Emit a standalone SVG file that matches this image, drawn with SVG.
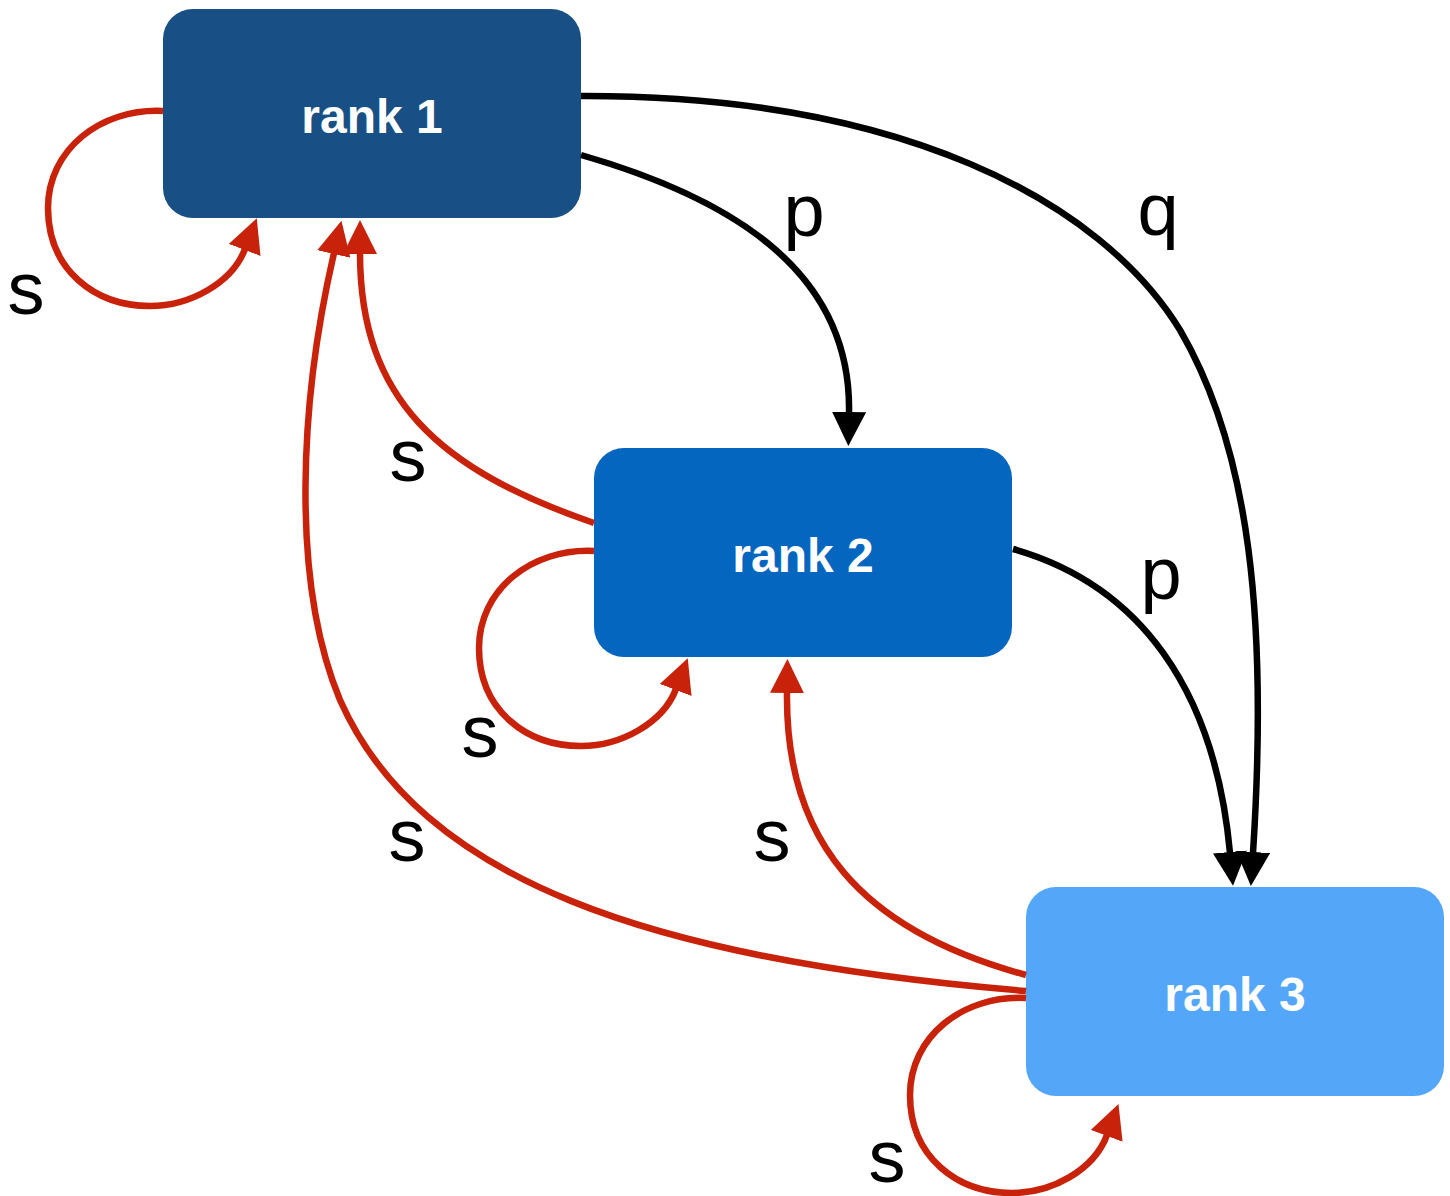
<svg xmlns="http://www.w3.org/2000/svg" width="1450" height="1196" viewBox="0 0 1450 1196">
<style>
.node text{font-family:"Liberation Sans",Arial,sans-serif;font-weight:bold;font-size:48px;fill:#ffffff;text-anchor:middle}
.e{fill:none;stroke-width:6.5}
.r{stroke:#c8230a}
.k{stroke:#000000}
.lbl{font-family:"Liberation Sans",Arial,sans-serif;font-size:74px;fill:#000000;text-anchor:middle}
</style>
<defs>
<marker id="ar" viewBox="0 0 34 34" markerWidth="34" markerHeight="34" markerUnits="userSpaceOnUse" refX="1" refY="17" orient="auto">
<path d="M0,0 L34,17 L0,34 z" fill="#c8230a"/>
</marker>
<marker id="ak" viewBox="0 0 34 34" markerWidth="34" markerHeight="34" markerUnits="userSpaceOnUse" refX="1" refY="17" orient="auto">
<path d="M0,0 L34,17 L0,34 z" fill="#000000"/>
</marker>
</defs>
<g id="rank1" class="node">
<rect x="163" y="9" width="418" height="209" rx="30" ry="30" fill="#184f85"/>
<text x="372" y="133">rank 1</text>
</g>
<g id="rank2" class="node">
<rect x="594" y="448" width="418" height="209" rx="30" ry="30" fill="#0566c0"/>
<text x="803" y="572">rank 2</text>
</g>
<g id="rank3" class="node">
<rect x="1026" y="887" width="418" height="209" rx="30" ry="30" fill="#54a7f8"/>
<text x="1235" y="1011">rank 3</text>
</g>
<g id="connectors">
<path class="e r" marker-end="url(#ar)" d="M163,111 C100,108 48,150 48,208 C48,270 95,306 150,306 C190,306 232,283 245,249"/>
<path class="e r" marker-end="url(#ar)" d="M594,551 C531,548 479,590 479,648 C479,710 526,746 581,746 C621,746 663,723 676,689"/>
<path class="e r" marker-end="url(#ar)" d="M1026,998 C962,995 910,1037 910,1095 C910,1157 957,1193 1012,1193 C1052,1193 1094,1170 1107,1135"/>
<path class="e k" marker-end="url(#ak)" d="M581,155 C720,195 852,265 849,413"/>
<path class="e k" marker-end="url(#ak)" d="M581,96 C900,95 1100,200 1180,330 C1250,450 1268,620 1253,853"/>
<path class="e k" marker-end="url(#ak)" d="M1013,549 C1140,585 1215,690 1230,853"/>
<path class="e r" marker-end="url(#ar)" d="M594,523 C440,470 360,400 360,253"/>
<path class="e r" marker-end="url(#ar)" d="M1026,991 C650,960 420,880 340,700 C290,580 300,400 334,253"/>
<path class="e r" marker-end="url(#ar)" d="M1026,975 C860,930 785,840 787,692"/>
</g>
<g id="labels">
<text class="lbl" x="26" y="314">s</text>
<text class="lbl" x="804" y="236">p</text>
<text class="lbl" x="1158" y="235">q</text>
<text class="lbl" x="408" y="481">s</text>
<text class="lbl" x="1161" y="599">p</text>
<text class="lbl" x="480" y="757">s</text>
<text class="lbl" x="407" y="861">s</text>
<text class="lbl" x="772" y="861">s</text>
<text class="lbl" x="887" y="1182">s</text>
</g>
</svg>
